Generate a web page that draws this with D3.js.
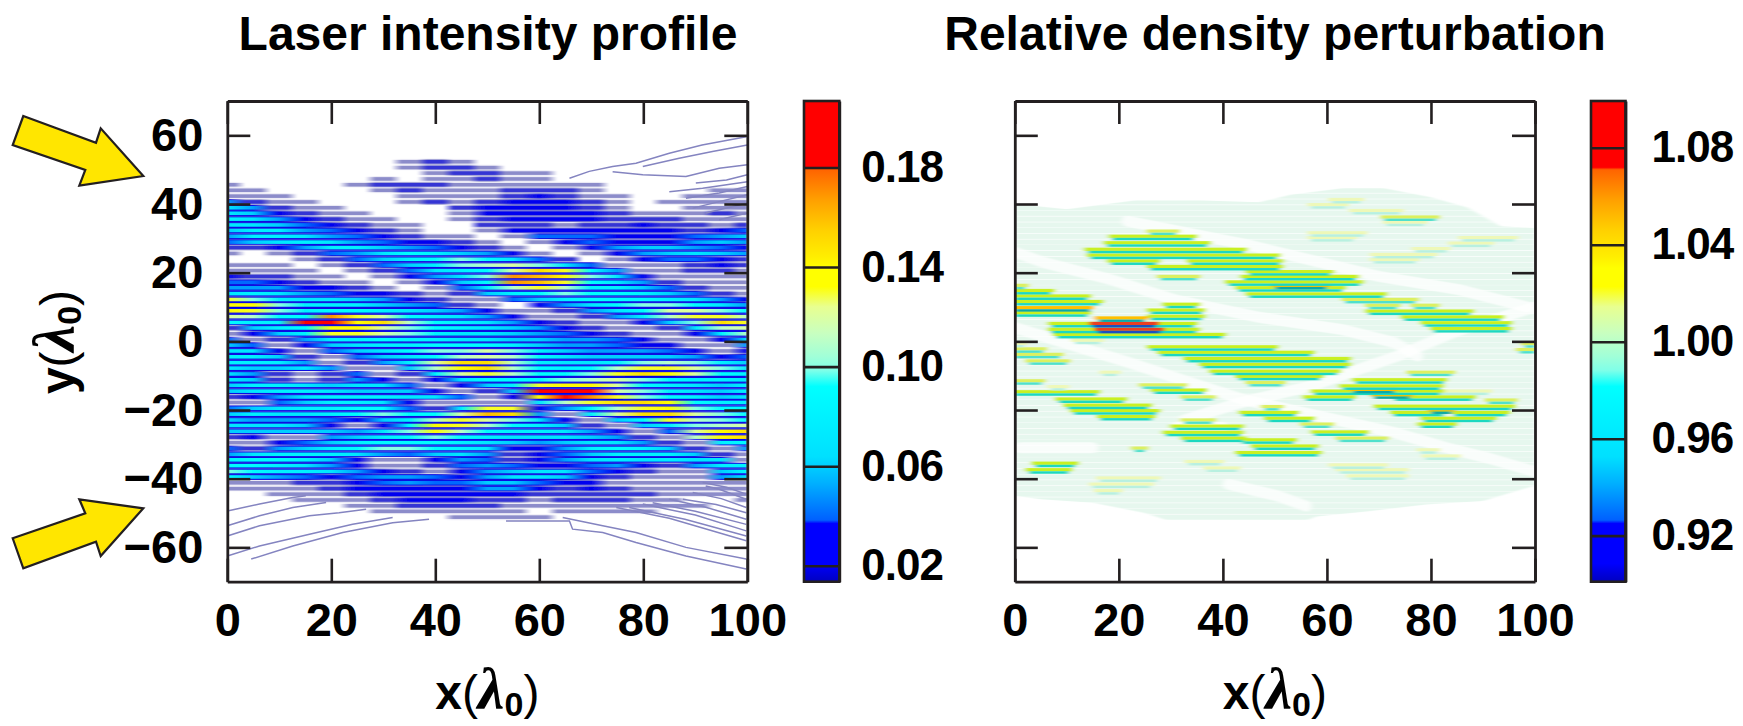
<!DOCTYPE html>
<html lang="en">
  <head>
    <meta charset="utf-8">
    <title>Laser intensity and density perturbation</title>
    <script type="text/javascript" src="https://cdn.jsdelivr.net/npm/d3@7"></script>
    <style>
      body { margin: 0; background: #fff; }
      text { font-family: "Liberation Sans", sans-serif; font-weight: bold; fill: #000; }
    </style>
  </head>
  <body>
    <script type="text/javascript">
      var width = 1743;
      var height = 726;
      var ink = "#231f20";

      var titles = ["Laser intensity profile", "Relative density perturbation"];
      var xTicks = [0, 20, 40, 60, 80, 100];
      var yTicks = [-60, -40, -20, 0, 20, 40, 60];
      var intensityTicks = [0.02, 0.06, 0.10, 0.14, 0.18];
      var densityTicks = [0.92, 0.96, 1.00, 1.04, 1.08];

      // colour bar, read bottom to top (0 = bottom of bar, 1 = top)
      var barStops = [0, 0.038, 0.121, 0.128, 0.205, 0.26, 0.406, 0.44, 0.468, 0.517, 0.572, 0.614, 0.652, 0.676, 0.732, 0.794, 0.857, 0.862, 1];
      var barColors = ["#0000c0", "#0000ff", "#0000ff", "#0060ff", "#00b0ff", "#00e0ff", "#00ffff", "#80ffe8", "#a0ffd8", "#c8ffc0", "#e8ff90", "#ffff00", "#ffff00", "#ffee00", "#ffd000", "#ffa000", "#ff6400", "#ff0000", "#ff0000"];

      // stripe rows of the laser panel (y in lambda0)
      var rowY = [52.3, 50.6, 49.0, 47.3, 45.6, 44.0, 42.3, 40.6, 38.9, 37.3, 35.6, 33.9, 32.3, 30.6, 28.9, 27.3, 25.6, 23.9, 22.2, 20.6, 18.9, 17.2, 15.6, 13.9, 12.2, 10.6, 8.9, 7.2, 5.5, 3.9, 2.2, 0.5, -1.1, -2.8, -4.5, -6.2, -7.8, -9.5, -11.2, -12.8, -14.5, -16.2, -17.8, -19.5, -21.2, -22.9, -24.5, -26.2, -27.9, -29.5, -31.2, -32.9, -34.5, -36.2, -37.9, -39.5, -41.2, -42.9, -44.5, -46.2, -47.9, -49.5, -51.2];
      var columnX = [0, 5, 10, 15, 20, 25, 30, 35, 40, 45, 50, 55, 60, 65, 70, 75, 80, 85, 90, 95, 100];

      // peak intensity of each stripe at each column, in units of 0.01
      var laserRows = [
        [0,0,0,0,0,0,0,1,2,1,0,0,0,0,0,0,0,0,0,0,0],
        [0,0,0,0,0,0,0,1,2,2,1,0,0,0,0,0,0,0,0,0,0],
        [0,0,0,0,0,0,0,0,1,2,2,1,1,0,0,0,0,0,0,0,0],
        [0,0,0,0,0,0,1,0,1,1,2,1,1,0,0,0,0,0,0,0,0],
        [1,0,0,0,0,1,2,2,2,1,1,1,1,1,1,0,0,0,0,0,0],
        [1,1,0,0,0,0,1,2,1,1,1,2,2,2,1,0,0,0,0,1,1],
        [1,1,1,0,0,0,0,1,1,1,1,2,3,2,1,1,0,0,1,1,1],
        [5,2,1,1,0,0,0,1,2,1,2,3,3,3,2,1,0,1,1,1,1],
        [7,5,2,1,1,0,0,0,0,2,3,3,3,3,2,1,0,0,1,1,1],
        [7,6,3,2,1,1,0,0,0,1,3,3,3,3,3,2,1,1,1,2,1],
        [8,7,5,3,2,1,1,0,0,1,2,3,3,3,3,2,2,2,1,1,1],
        [7,7,6,4,3,2,1,1,0,0,2,2,2,1,2,2,3,2,2,1,2],
        [6,8,8,5,4,3,2,1,0,0,1,3,3,3,3,3,3,3,2,3,4],
        [5,8,8,7,5,4,3,2,1,1,0,1,4,4,4,3,3,3,4,5,6],
        [4,6,7,8,7,5,4,3,3,2,1,0,1,3,4,3,3,3,5,6,5],
        [2,2,3,5,8,8,6,5,4,3,2,1,0,1,3,5,6,6,5,4,3],
        [1,0,1,2,4,5,7,9,8,6,5,3,1,0,1,3,5,6,7,6,5],
        [0,0,0,1,2,4,6,8,9,10,9,7,4,2,0,1,3,4,4,3,2],
        [1,1,1,0,1,2,4,6,8,10,11,12,10,7,4,1,1,1,2,3,2],
        [1,1,1,1,0,1,2,4,7,8,9,12,15,13,9,5,1,1,2,2,1],
        [3,2,2,1,1,0,1,3,5,7,10,17,16,14,10,7,3,1,1,1,1],
        [4,4,3,2,1,1,0,1,3,6,9,17,16,13,9,7,5,2,1,1,1],
        [5,5,5,3,3,2,1,0,1,4,8,11,13,11,8,8,6,4,2,1,1],
        [7,8,7,5,4,3,3,2,1,2,6,8,9,10,9,9,8,6,4,2,1],
        [13,10,8,7,7,6,5,3,2,1,1,4,6,8,9,9,9,8,7,5,3],
        [14,14,10,8,8,8,6,5,4,2,1,0,3,5,7,9,10,10,9,7,5],
        [14,13,10,8,9,9,8,7,6,5,3,1,1,2,5,7,9,12,12,10,9],
        [12,11,9,9,17,13,12,9,8,7,5,3,1,1,2,5,8,11,13,13,11],
        [9,8,8,18,19,14,15,11,9,8,7,5,3,2,1,1,3,6,10,15,13],
        [2,6,8,9,14,14,12,10,9,8,7,6,5,3,2,1,1,2,7,11,12],
        [1,3,6,8,13,13,12,10,8,7,7,6,5,4,3,2,1,1,3,8,11],
        [4,1,2,5,8,8,9,8,8,7,7,6,6,5,5,4,3,1,1,3,7],
        [6,4,1,3,6,7,8,8,9,9,9,8,6,5,5,4,3,3,1,1,5],
        [7,7,3,1,4,6,7,9,10,10,12,10,8,6,5,5,5,4,3,1,3],
        [8,8,6,2,1,4,6,7,9,11,12,11,9,7,6,6,6,6,5,3,4],
        [8,8,8,5,1,2,5,8,12,15,15,11,8,7,7,8,10,11,10,8,6],
        [7,6,6,7,5,1,1,6,11,14,15,11,9,8,9,11,13,13,12,10,7],
        [7,5,2,1,2,4,1,2,8,12,13,11,9,9,10,13,15,14,12,9,8],
        [7,6,2,1,2,5,3,1,3,7,9,9,9,10,11,12,10,9,8,8,7],
        [6,8,8,7,6,7,7,4,1,3,6,8,13,14,14,12,9,8,7,6,8],
        [6,7,8,8,7,6,6,6,3,1,2,6,18,19,18,12,10,8,7,6,8],
        [2,3,5,7,8,8,8,7,7,4,1,3,14,18,17,13,10,9,8,6,7],
        [1,1,4,6,8,8,7,3,1,1,1,1,7,11,13,15,15,14,9,8,8],
        [4,6,7,8,8,9,9,4,2,8,13,13,3,5,9,11,13,14,10,9,9],
        [6,8,7,7,8,9,10,9,9,12,16,15,5,1,8,12,15,15,12,10,9],
        [6,5,5,5,4,3,6,8,11,13,12,10,7,3,1,6,9,13,11,10,9],
        [7,7,7,6,3,1,3,9,14,13,11,9,8,6,2,1,6,8,10,11,12],
        [6,6,6,6,6,5,7,10,14,11,9,8,8,7,5,3,1,4,12,14,15],
        [2,3,1,1,5,6,8,9,10,9,8,7,7,7,6,5,2,1,11,14,15],
        [1,1,3,4,6,8,9,9,9,8,7,6,5,6,7,7,5,2,1,8,9],
        [4,2,5,6,8,9,10,10,9,8,7,3,3,5,8,9,8,6,2,1,5],
        [5,7,8,8,8,7,5,4,6,7,5,2,3,4,6,8,8,8,6,2,1],
        [8,9,9,8,6,3,1,1,3,5,4,2,3,5,7,8,7,8,7,7,1],
        [9,9,8,7,5,3,1,1,2,4,5,4,3,3,4,5,3,2,5,8,8],
        [10,9,8,8,7,5,3,2,1,3,5,6,7,7,4,3,2,1,1,6,9],
        [9,6,5,4,3,4,5,5,4,3,5,7,7,6,3,2,1,1,1,5,7],
        [1,1,1,2,2,3,4,5,4,4,6,6,4,3,3,1,1,1,1,1,1],
        [1,1,1,1,2,3,3,3,3,3,5,5,3,2,3,2,1,1,1,1,1],
        [0,0,1,1,1,2,3,3,3,3,3,3,2,2,2,2,2,1,1,1,1],
        [0,0,0,1,1,1,2,3,3,3,2,2,1,2,2,2,1,1,0,0,1],
        [0,0,0,0,0,1,1,2,2,2,2,1,1,1,1,1,1,1,1,0,0],
        [0,0,0,0,0,0,1,1,1,1,1,1,0,1,1,1,1,0,0,0,0],
        [0,0,0,0,0,0,0,0,0,1,1,1,1,0,0,0,0,0,0,0,0]
      ];

      // outer contour lines of the laser beams, [x, y]
      var contourLines = [
        [[65.8,47.5],[69.6,49.5],[74.1,50.9],[78.6,51.9],[85,54.8],[91.3,57.2],[99.8,59.6]],
        [[79.9,50.9],[86.9,53.3],[93.3,55.3],[100,57.2]],
        [[74.1,49.4],[79.9,48.5],[88.2,48],[94.6,50.4],[100,51.4]],
        [[90.1,46.1],[96,47],[100,48.5]],
        [[85,43.6],[91.4,44.6],[100,46.5]],
        [[88.2,41.7],[94.6,43.2],[100,45.1]],
        [[89.5,38.8],[94.6,40.7],[100,42.7]],
        [[92,37.4],[100,40.3]],
        [[94.6,35.4],[100,37.4]],
        [[0,-49.4],[6.2,-47.4],[12.6,-45.5],[15.1,-45]],
        [[0,-53.7],[6.2,-50.8],[12.6,-48.4],[19,-46.9]],
        [[0,-56.7],[6.2,-53.7],[15.8,-50.8],[21.5,-49.9],[26.7,-48.9]],
        [[0,-62.5],[6.2,-59.6],[15.8,-56.2],[24.1,-53.3],[31.8,-51.3]],
        [[4.6,-63.4],[12.6,-59.6],[22.2,-55.7],[31.8,-52.8],[38.8,-51.8]],
        [[53.6,-52.3],[65.8,-52.3],[66.4,-54.7],[72.2,-55.7],[78.6,-58.6],[88.2,-62.5],[99.8,-66.3]],
        [[64.5,-51.3],[72.2,-53.7],[78.6,-55.7],[88.2,-60],[99.8,-63.4]],
        [[74.8,-48.4],[85,-51.5],[99.8,-58.1]],
        [[77.3,-48.4],[88,-51.8],[99.8,-56.7]],
        [[79.9,-47.4],[90,-50.6],[99.8,-55.2]],
        [[81.8,-47],[90,-49.5],[99.8,-53.3]],
        [[85,-46],[92,-48.3],[99.8,-51.8]],
        [[87.6,-46],[94,-47.5],[99.8,-49.9]],
        [[89.5,-44],[95,-45.8],[99.8,-48.4]],
        [[92,-42.1],[94.6,-43.1],[99.8,-46]],
        [[91.4,-41.1],[96,-42.5],[99.8,-44.5]]
      ];

      // edge of the pale perturbed region, [x, y]
      var densityTop = [[0,40],[10,38.5],[23,41],[36,41],[47,40.5],[53,42.7],[63,44.6],[71,44.6],[80,42],[87,39],[93.4,33.5],[100,33]];
      var densityBottom = [[0,-45],[5,-46],[15,-47],[25,-50],[31,-53],[41,-54],[53,-54],[58,-51],[68,-49.5],[79,-47.5],[90,-46.5],[100,-42]];

      // white crossing bands where the perturbation vanishes, [x, y]
      var quietBands = [
        [[21.6,35],[45,28],[69.7,19],[85.6,15],[98.5,10]],
        [[0,26],[5.5,23],[18.4,18],[31,12],[47,7],[63,3.4],[73,-0.4],[77.4,-4.3]],
        [[0,4],[21.6,-6],[33.7,-12],[44,-17],[73,-26.6],[83,-31],[91,-34],[100,-38]],
        [[32.5,-23],[43,-18],[57,-13],[74,-4],[85,3],[100,10]],
        [[41,-41.6],[50.5,-45],[56,-48]],
        [[1,-31],[15,-31]],
        [[31,-25],[40,-25]]
      ];

      // density streaks: [y, x from, x to, deviation from 1 in units of 0.01]
      var densityStreaks = [
        [31.3,26,31,2],[29.8,18.7,34.4,3],[27.9,17.7,37,3],[26,14,44,3],[24.3,14.5,50.4,3],
        [22.6,18.4,27.3,3],[22.6,33.7,51,3],[21,26,51,3],[19.5,45,60.7,3],[18.1,28,35,2],
        [18.1,44,65.5,3],[16.5,41,66.4,3],[14.8,43,63,3],[13,45,70.9,3],[11.4,63.5,77,2],
        [9.7,68,73.5,2],[9.7,76.7,81,2],[8,68,87.6,3],[6.3,74.8,93.4,3],[4.6,78.6,95,3],[2.9,80.5,95,3],
        [15.5,50,60,5],
        [40.5,61,66.4,1],[39,57,63.5,1],[37.3,65,74,1],[35.4,71,81,2],[33.9,71.5,78.6,1],
        [30.8,57,67,1],[29.4,57,65,1],[29.4,86,96,1],[27.8,84,91.4,1],[26.2,77,83,1],
        [24.5,69,80.5,1],[23,69,77,1],
        [15.5,0,2,2],[14,0,7,3],[12.4,0,14,3],[10.8,0,16.4,3],[9,0,14.5,5],[7.5,0,14,3],
        [10,29,35,3],[8.3,26,36,3],[6.5,26,36,3],[6,16,25,5],[4.4,7,34.5,3],[2.7,7,35,3],[1.2,8,40,3],
        [4.4,15,27,8],[2.7,16,28,8],[-0.5,11.6,16.4,1],
        [-2.4,26,50,3],[-4,28,57,3],[-5.8,33,64,3],[-7.5,36,64,3],[-9.5,38,62,3],[-9.8,76,84,2],
        [-11,43,58.7,3],[-12.8,45,51.4,2],[-12,65.5,82.5,3],[-13.8,63,81.8,3],[-15.3,57.5,81.8,3],
        [-15.3,82,91,1],[-17,56,65,3],[-17,73,88,3],[-17.9,91,96,2],[-19.7,69.6,95.6,3],
        [-21.5,72.8,82.5,3],[-21.5,84.4,94.6,3],[-23.2,78.6,92,3],[-24.9,78,84.4,3],
        [-14.8,65,73,5],[-16.4,69,76,5],[-20.8,80,84,5],
        [-1.4,0,1.7,1],[-3,0,5.5,2],[-4.6,0,8.7,2],[-6.5,2.7,10,2],[-9.8,17,19.6,1],
        [-12.3,0,5.2,2],[-14,7,9.7,1],[-13.5,24.5,32.5,2],[-15,26.7,36.3,3],[-15.5,0,15.8,3],
        [-17,32.5,38,2],[-17.6,8.4,21,3],[-19.4,10,25.7,3],[-21,11.3,27.3,3],[-22.7,16.4,26.4,3],
        [-19.8,48,51,2],[-21.5,43.7,54,3],[-23.2,48.5,57,3],[-23.7,32.5,38,2],[-25.5,30.5,43.4,3],
        [-27.3,29,43.4,3],[-29,32.5,44,3],[-29.5,43.7,53.6,3],[-31.3,46,57.8,3],[-33.2,43,58.4,3],
        [-24.9,55.5,60.7,2],[-27.2,57.5,67.4,3],[-29,62.3,71.2,2],[-31.9,23,25,2],
        [-36.3,3.9,11.6,3],[-38.2,2.7,10.4,3],[-40.6,16.4,27.3,1],[-42.4,15,26,1],[-44.3,16,20,1],
        [-35.8,33.4,39.5,1],[-37.7,37,42.7,1],[-32.4,78,81,1],[-34.2,79,85,1],[-36.8,61,71,1],
        [-38.2,62.5,75,1],[-40,64.5,75,1],[-1.5,98,100,2],[-3.2,97,100,2]
      ];

      var plotTop = 101;
      var plotBottom = 581.7;
      var tickLength = 23;
      var rowStep = 5.75;

      var yScale = d3.scaleLinear().domain([-70, 70]).range([plotBottom, plotTop]);
      var xLaser = d3.scaleLinear().domain([0, 100]).range([227.3, 747.3]);
      var xDensity = d3.scaleLinear().domain([0, 100]).range([1014.8, 1535]);
      var barIntensity = d3.scaleLinear().domain([0.0136, 0.2067]).range([plotBottom, plotTop]);
      var barDensity = d3.scaleLinear().domain([0.901, 1.0993]).range([plotBottom, plotTop]);

      var barColor = d3.scaleLinear().domain(barStops).range(barColors);
      var intensityToBar = d3.scaleLinear().domain(barIntensity.domain()).range([0, 1]);

      // stripe colours of the laser panel, below 0.03 only contour lines show
      var crestLow = d3.scaleLinear().domain([0, 1, 2, 3]).range(["#ffffff", "#8c8cca", "#3434d4", "#0000f0"]);
      var troughLow = d3.scaleLinear().domain([0, 1, 2, 3, 4, 20]).range(["#ffffff", "#ecebf6", "#a8a8d8", "#6a6ad4", "#1010e0", "#0000e8"]);
      function crestColor(v) {
        if (v <= 3) return crestLow(v);
        return barColor(intensityToBar(v / 100));
      }

      // streak colours of the density panel
      var belowColor = d3.scaleLinear().domain([0, 1, 2, 3, 5, 8]).range(["#ffffff", "#b8f0e0", "#50e0cc", "#1cd8c0", "#10a8a4", "#1a50c0"]);
      var aboveColor = d3.scaleLinear().domain([0, 1, 2, 3, 5, 8]).range(["#ffffff", "#eef8b8", "#dcf060", "#c8f020", "#ffc000", "#e84020"]);

      var svg = d3.select("body")
            .append("svg")
            .attr("width", width)
            .attr("height", height)
            .style("display", "block");
      var defs = svg.append("defs");

      function softFilter(id, blur) {
        defs.append("filter").attr("id", id)
            .attr("x", "-2%").attr("y", "-2%").attr("width", "104%").attr("height", "104%")
            .append("feGaussianBlur").attr("stdDeviation", blur);
      }
      softFilter("softLaser", "1.2 0.5");
      softFilter("softDensity", "2.5 0.55");

      function clipFor(id, xScale) {
        defs.append("clipPath").attr("id", id).append("rect")
            .attr("x", xScale(0)).attr("y", plotTop)
            .attr("width", xScale(100) - xScale(0)).attr("height", plotBottom - plotTop);
      }
      clipFor("clipLaser", xLaser);
      clipFor("clipDensity", xDensity);

      // low levels hold their colour around the column, higher levels run smoothly
      function rowStops(row) {
        var stops = [];
        row.forEach(function(v, i) {
          if (v <= 2) {
            stops.push({x: Math.max(columnX[i] - 1.5, 0), v: v});
            stops.push({x: Math.min(columnX[i] + 1.5, 100), v: v});
          } else {
            stops.push({x: columnX[i], v: v});
          }
        });
        return stops;
      }

      function rowGradient(id, row, colorOf) {
        var g = defs.append("linearGradient").attr("id", id)
            .attr("gradientUnits", "userSpaceOnUse")
            .attr("x1", xLaser(0)).attr("x2", xLaser(100)).attr("y1", 0).attr("y2", 0);
        g.selectAll("stop").data(rowStops(row)).enter().append("stop")
            .attr("offset", function(d) { return d.x / 100; })
            .attr("stop-color", function(d) { return colorOf(d.v); });
      }

      // laser panel
      laserRows.forEach(function(row, i) {
        rowGradient("trough" + i, row, troughLow);
        rowGradient("crest" + i, row, crestColor);
      });

      var laserPlot = svg.append("g").attr("clip-path", "url(#clipLaser)")
            .append("g").attr("filter", "url(#softLaser)");

      laserPlot.selectAll("rect.trough").data(laserRows).enter().append("rect")
         .attr("class", "trough")
         .attr("x", xLaser(0))
         .attr("y", function(d, i) { return yScale(rowY[i]) - rowStep / 2; })
         .attr("width", xLaser(100) - xLaser(0))
         .attr("height", rowStep + 0.2)
         .attr("fill", function(d, i) { return "url(#trough" + i + ")"; });

      laserPlot.selectAll("rect.crest").data(laserRows).enter().append("rect")
         .attr("class", "crest")
         .attr("x", xLaser(0))
         .attr("y", function(d, i) { return yScale(rowY[i]) - 1.8; })
         .attr("width", xLaser(100) - xLaser(0))
         .attr("height", 3.6)
         .attr("fill", function(d, i) { return "url(#crest" + i + ")"; });

      var laserLine = d3.line()
         .x(function(d) { return xLaser(d[0]); })
         .y(function(d) { return yScale(d[1]); });

      svg.append("g").attr("clip-path", "url(#clipLaser)")
         .selectAll("path.contour").data(contourLines).enter().append("path")
         .attr("class", "contour")
         .attr("d", laserLine)
         .attr("fill", "none")
         .attr("stroke", "#8484c0")
         .attr("stroke-width", 1.5);

      // density panel
      var densityPlot = svg.append("g").attr("clip-path", "url(#clipDensity)")
            .append("g").attr("filter", "url(#softDensity)");

      var densityShape = d3.line()
         .x(function(d) { return xDensity(d[0]); })
         .y(function(d) { return yScale(d[1]); });

      defs.append("clipPath").attr("id", "clipPale").append("path")
         .attr("d", densityShape(densityTop.concat(densityBottom.slice().reverse())) + "Z");

      densityPlot.append("g").attr("clip-path", "url(#clipPale)")
         .selectAll("rect").data(rowY).enter().append("rect")
         .attr("x", xDensity(0))
         .attr("y", function(d) { return yScale(d) - 2.6; })
         .attr("width", xDensity(100) - xDensity(0))
         .attr("height", 5.2)
         .attr("fill", "#e6f7ee");

      densityPlot.selectAll("path.quiet").data(quietBands).enter().append("path")
         .attr("class", "quiet")
         .attr("d", densityShape)
         .attr("fill", "none")
         .attr("stroke", "#ffffff")
         .attr("stroke-opacity", 0.75)
         .attr("stroke-width", 11)
         .attr("stroke-linecap", "round");

      var sortedStreaks = densityStreaks.slice().sort(function(a, b) { return d3.ascending(a[3], b[3]); });

      densityPlot.selectAll("rect.above").data(sortedStreaks).enter().append("rect")
         .attr("class", "above")
         .attr("x", function(d) { return xDensity(d[1]) - 4; })
         .attr("y", function(d) { return yScale(d[0]) - 4.4; })
         .attr("width", function(d) { return xDensity(d[2]) - xDensity(d[1]) + 8; })
         .attr("height", 3.2)
         .attr("fill", function(d) { return aboveColor(d[3]); });

      densityPlot.selectAll("rect.below").data(sortedStreaks).enter().append("rect")
         .attr("class", "below")
         .attr("x", function(d) { return xDensity(d[1]); })
         .attr("y", function(d) { return yScale(d[0]) - 1.2; })
         .attr("width", function(d) { return xDensity(d[2]) - xDensity(d[1]); })
         .attr("height", 2.4)
         .attr("fill", function(d) { return belowColor(d[3]); });

      // frames, ticks and tick labels
      function drawFrame(xScale, showYLabels) {
        svg.append("g").attr("class", "axis")
            .attr("transform", "translate(" + xScale(0) + ",0)")
            .call(d3.axisLeft(yScale).tickValues(yTicks).tickSizeInner(-tickLength).tickSizeOuter(0).tickPadding(24)
              .tickFormat(showYLabels ? d3.format("d") : function() { return ""; }));
        svg.append("g").attr("class", "axis")
            .attr("transform", "translate(" + xScale(100) + ",0)")
            .call(d3.axisRight(yScale).tickValues(yTicks).tickSizeInner(-tickLength).tickSizeOuter(0).tickFormat(function() { return ""; }));
        svg.append("g").attr("class", "axis")
            .attr("transform", "translate(0," + plotBottom + ")")
            .call(d3.axisBottom(xScale).tickValues(xTicks).tickSizeInner(-tickLength).tickSizeOuter(0).tickPadding(21)
              .tickFormat(d3.format("d")));
        svg.append("g").attr("class", "axis")
            .attr("transform", "translate(0," + plotTop + ")")
            .call(d3.axisTop(xScale).tickValues(xTicks).tickSizeInner(-tickLength).tickSizeOuter(0).tickFormat(function() { return ""; }));
      }
      drawFrame(xLaser, true);
      drawFrame(xDensity, false);

      // colour bars
      var barGradient = defs.append("linearGradient").attr("id", "barFill")
            .attr("x1", 0).attr("x2", 0).attr("y1", 1).attr("y2", 0);
      barGradient.selectAll("stop").data(barStops).enter().append("stop")
         .attr("offset", function(d) { return d; })
         .attr("stop-color", function(d, i) { return barColors[i]; });

      function drawBar(x0, barWidth, scale, ticks, labelGap) {
        svg.append("rect")
           .attr("x", x0).attr("y", plotTop)
           .attr("width", barWidth).attr("height", plotBottom - plotTop)
           .attr("fill", "url(#barFill)");
        svg.append("g").attr("class", "axis bar")
           .attr("transform", "translate(" + (x0 + barWidth) + ",0)")
           .call(d3.axisRight(scale).tickValues(ticks).tickSizeInner(-barWidth).tickSizeOuter(0).tickPadding(labelGap).tickFormat(d3.format(".2f")));
        svg.append("rect")
           .attr("x", x0).attr("y", plotTop)
           .attr("width", barWidth).attr("height", plotBottom - plotTop)
           .attr("fill", "none").attr("stroke", ink).attr("stroke-width", 2.6);
      }
      drawBar(804, 35.3, barIntensity, intensityTicks, 22);
      drawBar(1591, 34.5, barDensity, densityTicks, 26);

      svg.selectAll(".axis path.domain").attr("stroke", ink).attr("stroke-width", 2.8);
      svg.selectAll(".axis .tick line").attr("stroke", ink).attr("stroke-width", 2.6);
      svg.selectAll(".axis text")
         .attr("font-size", 47)
         .attr("font-family", "Liberation Sans")
         .attr("font-weight", "bold")
         .attr("fill", "#000");
      svg.selectAll(".axis.bar text").attr("font-size", 44).attr("letter-spacing", -1);

      // titles
      svg.selectAll("text.title").data(titles).enter().append("text")
         .attr("class", "title")
         .attr("x", function(d, i) { return i === 0 ? 488 : 1275; })
         .attr("y", 50)
         .attr("text-anchor", "middle")
         .attr("font-size", 48)
         .text(function(d) { return d; });

      // axis names x(lambda0), y(lambda0)
      function axisName(sel, letter) {
        sel.append("tspan").text(letter);
        sel.append("tspan").attr("font-weight", "normal").text("(");
        sel.append("tspan").attr("font-family", "Liberation Serif").attr("font-style", "italic").attr("font-size", 60).text("\u03bb");
        sel.append("tspan").attr("font-size", 34).attr("dy", 7).text("0");
        sel.append("tspan").attr("font-weight", "normal").attr("dy", -7).text(")");
      }
      [xLaser, xDensity].forEach(function(scale) {
        svg.append("text")
           .attr("x", scale(50)).attr("y", 709)
           .attr("text-anchor", "middle")
           .attr("font-size", 48)
           .call(axisName, "x");
      });
      svg.append("text")
         .attr("transform", "translate(74,342) rotate(-90)")
         .attr("text-anchor", "middle")
         .attr("font-size", 48)
         .call(axisName, "y");

      // arrows marking the two laser beams
      var arrowUpper = [[23.3,116],[96,142.7],[100.7,128.3],[143.3,176],[79.3,185.7],[85.3,170],[12.7,145]];
      var arrowLower = [[12.7,538.3],[85.3,513.3],[79.3,499.3],[143.3,508.3],[100.7,556],[96,541.7],[23.3,568.3]];
      svg.selectAll("polygon.arrow").data([arrowUpper, arrowLower]).enter().append("polygon")
         .attr("class", "arrow")
         .attr("points", function(d) { return d.join(" "); })
         .attr("fill", "#ffe600")
         .attr("stroke", ink)
         .attr("stroke-width", 2.2);
    </script>
  </body>
</html>
